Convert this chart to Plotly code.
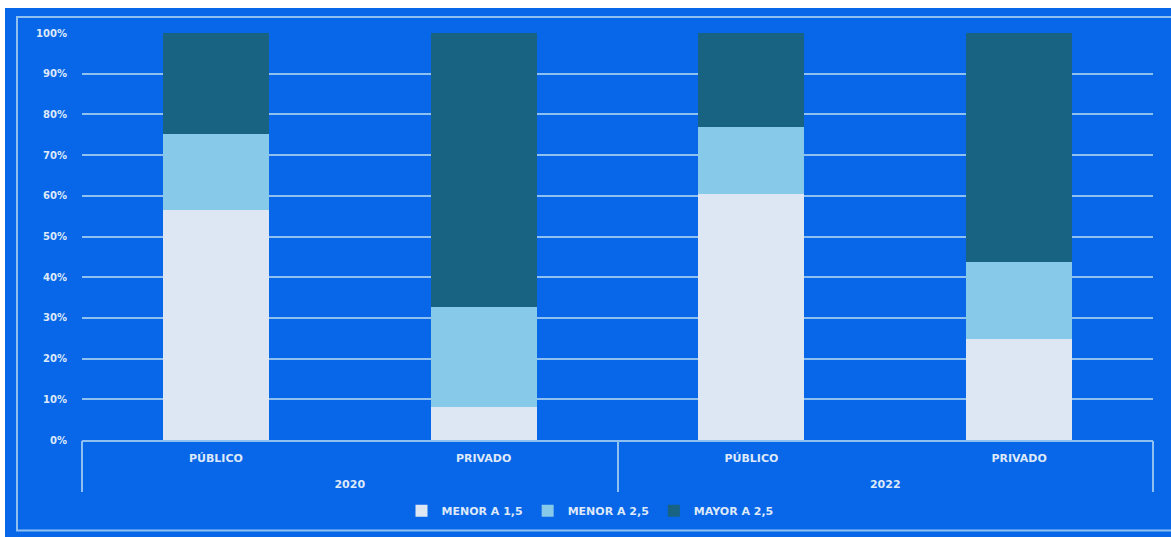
import plotly.graph_objects as go

# Categories (year / sector)
years = ["2020", "2020", "2022", "2022"]
sectors = ["PÚBLICO", "PRIVADO", "PÚBLICO", "PRIVADO"]
year_groups = ["2020", "2022"]

# Share of each band, in percent
menor_1_5 = [56.5, 8.1, 60.4, 24.8]
menor_2_5 = [18.7, 24.5, 16.5, 19.0]
mayor_2_5 = [24.8, 67.4, 23.1, 56.2]

series_names = ["MENOR A 1,5", "MENOR A 2,5", "MAYOR A 2,5"]
series_values = [menor_1_5, menor_2_5, mayor_2_5]
series_colors = ["#dde7f4", "#87c9e9", "#196382"]

y_ticks = [0, 10, 20, 30, 40, 50, 60, 70, 80, 90, 100]
y_tick_labels = [f"{v}%" for v in y_ticks]

BG = "#0866e8"
LINE = "#8ec0f2"
TEXT = "#dde9f8"
FONT = "DejaVu Sans"

W, H = 1171, 537
ML, MR, MT, MB = 82, 18, 33, 95
PW, PH = W - ML - MR, H - MT - MB


def px_x(px):
    return (px - ML) / PW


def px_y(py):
    return (H - MB - py) / PH


n = len(sectors)
x_range = [-0.5, n - 0.5]
# index positions of the categories and of the group boundaries
sector_pos = list(range(n))
group_pos = [0.5, 2.5]
boundary_pos = [-0.5, 1.5, 3.5]

fig = go.Figure()
for name, vals, col in zip(series_names, series_values, series_colors):
    fig.add_trace(go.Bar(
        x=[years, sectors],
        y=vals,
        name=name,
        marker=dict(color=col, line=dict(width=0)),
    ))

# empty helper traces so the label / divider axes get drawn
for ax in ["x2", "x3", "x4"]:
    fig.add_trace(go.Scatter(x=[], y=[], xaxis=ax, yaxis="y",
                             showlegend=False, hoverinfo="skip"))

label_font = dict(size=11, color=TEXT, family=FONT, weight="bold")
overlay_axis = dict(
    overlaying="x",
    anchor="y",
    side="bottom",
    range=x_range,
    showgrid=False,
    zeroline=False,
    showline=False,
    fixedrange=True,
    tickfont=label_font,
)

fig.update_layout(
    width=W,
    height=H,
    barmode="stack",
    bargap=0.604,
    paper_bgcolor=BG,
    plot_bgcolor=BG,
    margin=dict(l=ML, r=MR, t=MT, b=MB),
    font=dict(family=FONT, color=TEXT, size=11, weight="bold"),
    showlegend=True,
    legend=dict(
        orientation="h",
        x=px_x(590),
        xanchor="center",
        y=px_y(513),
        yanchor="middle",
        font=dict(size=11, color=TEXT, family=FONT, weight="bold"),
        bgcolor="rgba(0,0,0,0)",
        itemwidth=30,
        traceorder="normal",
    ),
    xaxis=dict(
        type="multicategory",
        range=x_range,
        showgrid=False,
        showline=True,
        linecolor=LINE,
        linewidth=1.6,
        zeroline=False,
        ticks="",
        showticklabels=False,
        showdividers=False,
    ),
    # sector labels
    xaxis2=dict(
        overlay_axis,
        tickmode="array",
        tickvals=sector_pos,
        ticktext=sectors,
        ticks="",
        ticklabelstandoff=10,
    ),
    # year labels
    xaxis3=dict(
        overlay_axis,
        tickmode="array",
        tickvals=group_pos,
        ticktext=year_groups,
        ticks="",
        ticklabelstandoff=36,
    ),
    # group dividers
    xaxis4=dict(
        overlay_axis,
        tickmode="array",
        tickvals=boundary_pos,
        ticktext=["", "", ""],
        ticks="outside",
        ticklen=51,
        tickwidth=2,
        tickcolor=LINE,
    ),
    yaxis=dict(
        range=[0, 100],
        tickvals=y_ticks,
        ticktext=y_tick_labels,
        showgrid=True,
        gridcolor=LINE,
        gridwidth=1.6,
        zeroline=False,
        showline=False,
        ticks="",
        ticklabelstandoff=14,
        tickfont=dict(size=10, color=TEXT, family=FONT, weight="bold"),
    ),
    shapes=[
        # white strips along the top and left edge of the page
        dict(type="rect", xref="paper", yref="paper",
             x0=px_x(-5), x1=px_x(5), y0=px_y(545), y1=px_y(-5),
             fillcolor="white", line=dict(width=0), layer="above"),
        dict(type="rect", xref="paper", yref="paper",
             x0=px_x(-5), x1=px_x(1180), y0=px_y(8), y1=px_y(-5),
             fillcolor="white", line=dict(width=0), layer="above"),
        # outer frame
        dict(type="rect", xref="paper", yref="paper",
             x0=px_x(17), x1=px_x(1185), y0=px_y(533), y1=px_y(17),
             fillcolor="rgba(0,0,0,0)", line=dict(color=LINE, width=2),
             layer="above"),
    ],
)

fig.write_html("out.html")
